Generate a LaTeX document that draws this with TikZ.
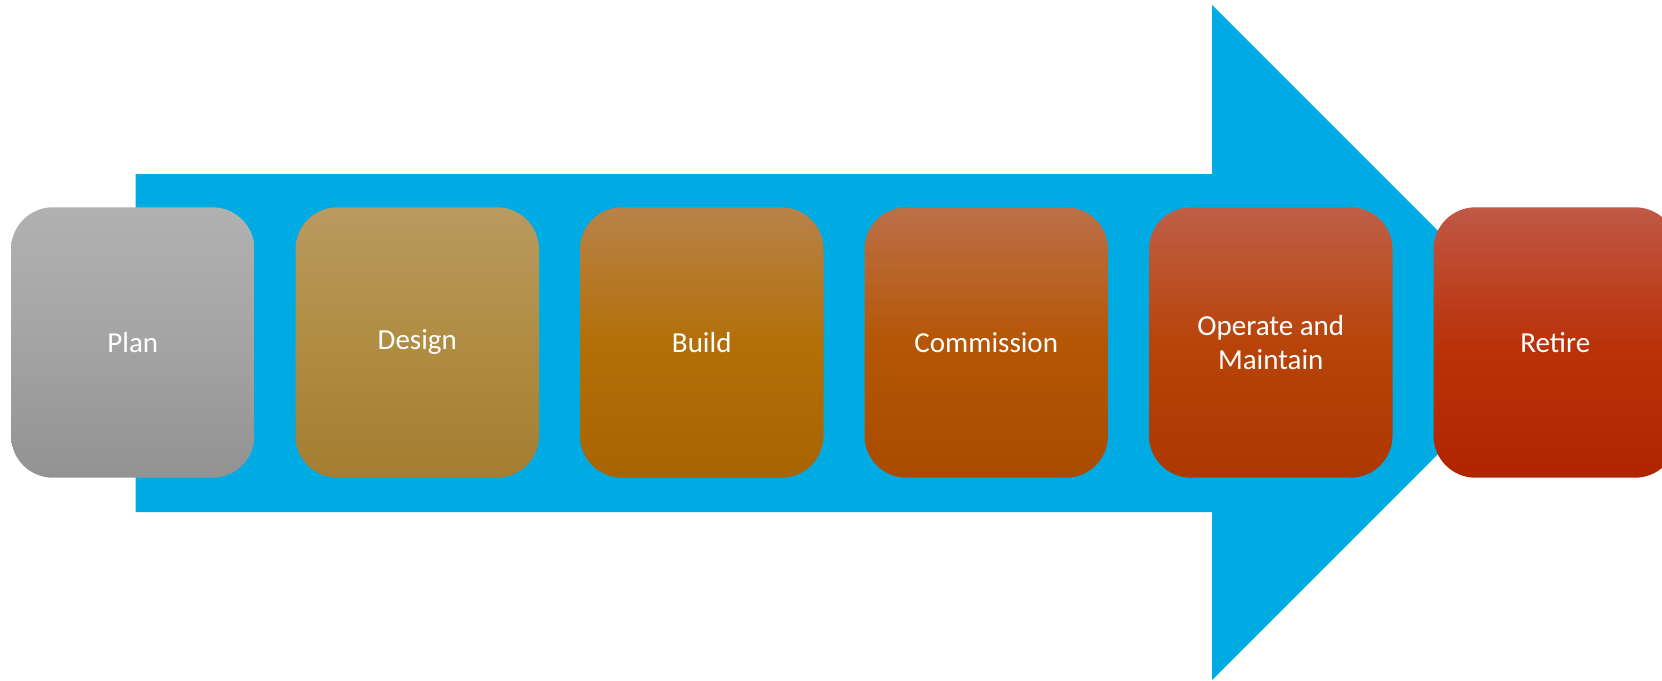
\documentclass[tikz,border=0pt]{standalone}
\usepackage{fontspec}
\setmainfont{Carlito}
\usetikzlibrary{positioning}

\definecolor{flowblue}{HTML}{00ABE4}
\definecolor{plantop}{HTML}{B1B1B1}
\definecolor{planmid}{HTML}{A4A4A4}
\definecolor{planbot}{HTML}{929292}
\definecolor{designtop}{HTML}{B99A60}
\definecolor{designmid}{HTML}{B08D42}
\definecolor{designbot}{HTML}{A47D30}
\definecolor{buildtop}{HTML}{B8834A}
\definecolor{buildmid}{HTML}{B36F08}
\definecolor{buildbot}{HTML}{A86400}
\definecolor{commtop}{HTML}{BC7049}
\definecolor{commmid}{HTML}{B45605}
\definecolor{commbot}{HTML}{A94C00}
\definecolor{opertop}{HTML}{BE5F47}
\definecolor{opermid}{HTML}{B8440A}
\definecolor{operbot}{HTML}{AD3800}
\definecolor{retiretop}{HTML}{C05845}
\definecolor{retiremid}{HTML}{BA320A}
\definecolor{retirebot}{HTML}{B02500}

\begin{document}
\begin{tikzpicture}[x=1pt,y=-1pt,node distance=40.6pt,
    phase/.style={rectangle, rounded corners=42pt, minimum width=243.5pt, minimum height=270.4pt,
        inner sep=0pt, align=center, text=white, font=\fontsize{29}{34}\selectfont}]
    \useasboundingbox (0,0) rectangle (1662,680);
    % the big arrow behind the phases
    \fill[flowblue] (135.7,174) -- (1212,174) -- (1212,5) -- (1549.5,342.5) -- (1212,680)
        -- (1212,512) -- (135.7,512) -- cycle;
    \node[phase, top color=plantop, bottom color=planbot, middle color=planmid] (plan) at (132.75,342.5) {Plan};
    \node[phase, right=of plan, top color=designtop, bottom color=designbot, middle color=designmid] (design) {Design};
    \node[phase, right=of design, top color=buildtop, bottom color=buildbot, middle color=buildmid] (build) {Build};
    \node[phase, right=of build, top color=commtop, bottom color=commbot, middle color=commmid] (commission) {Commission};
    \node[phase, right=of commission, top color=opertop, bottom color=operbot, middle color=opermid] (operate) {Operate and\\Maintain};
    \node[phase, right=of operate, top color=retiretop, bottom color=retirebot, middle color=retiremid] (retire) {Retire};
\end{tikzpicture}
\end{document}
